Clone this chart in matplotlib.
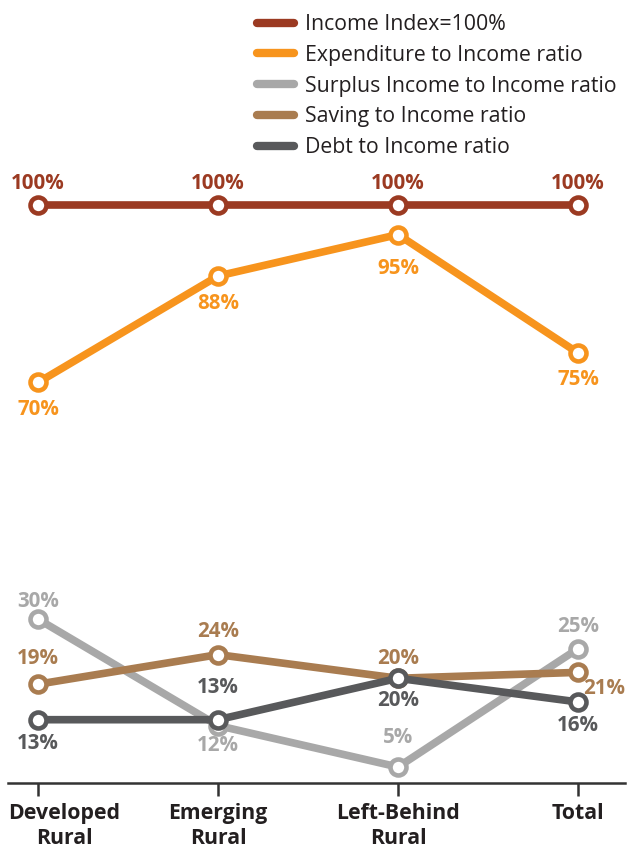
import matplotlib
matplotlib.use("Agg")
import matplotlib.pyplot as plt
from matplotlib.lines import Line2D
from matplotlib.transforms import ScaledTranslation

plt.rcParams['font.family'] = ['Open Sans', 'DejaVu Sans']

categories = ["Developed\nRural", "Emerging\nRural", "Left-Behind\nRural", "Total"]

series_names = [
    "Income Index=100%",
    "Expenditure to Income ratio",
    "Surplus Income to Income ratio",
    "Saving to Income ratio",
    "Debt to Income ratio",
]
income = [100, 100, 100, 100]
expenditure = [70, 88, 95, 75]
surplus = [30, 12, 5, 25]
saving = [19, 24, 20, 21]
debt = [13, 13, 20, 16]

colors = ["#9B3A22", "#F7941D", "#A8A8A8", "#A97C50", "#58595B"]

# label offsets in pixels (dx, dy) for each point of each series
offsets = {
    0: [(0, 22), (0, 22), (0, 22), (0, 22)],
    1: [(0, -27), (0, -28), (0, -34), (0, -27)],
    2: [(0, 18), (0, -20), (0, 30), (0, 22)],
    3: [(0, 26), (0, 23), (0, 20), (26, -16)],
    4: [(0, -24), (0, 32), (0, -22), (0, -24)],
}

fig = plt.figure(figsize=(6.3, 8.48), dpi=100)
W, H = 630, 848
ax_left, ax_right, ax_top, ax_bottom = 8, 625, 160, 783
ax = fig.add_axes([ax_left / W, 1 - ax_bottom / H,
                   (ax_right - ax_left) / W, (ax_bottom - ax_top) / H])

x = list(range(len(categories)))
all_series = [income, expenditure, surplus, saving, debt]
# draw order: lower series first so the upper ones sit on top where they cross
draw_order = [2, 3, 4, 1, 0]
for i in draw_order:
    vals = all_series[i]
    ax.plot(x, vals, color=colors[i], lw=5.5, marker='o', markersize=11.5,
            markerfacecolor='white', markeredgecolor=colors[i],
            markeredgewidth=3.3, solid_capstyle='round', zorder=3 + i * 0.1)
    for j, v in enumerate(vals):
        dx, dy = offsets[i][j]
        ax.annotate(f"{v}%", (j, v), xytext=(dx, dy), textcoords='offset pixels',
                    ha='center', va='center', fontsize=14.8, fontweight='bold',
                    color=colors[i], zorder=6)

ax.set_xlim(-30 / 180, 3 + 47 / 180)
ax.set_ylim(2.3, 100 + 45 / 5.916)

for side in ['top', 'right', 'left']:
    ax.spines[side].set_visible(False)
ax.spines['bottom'].set_color('#333333')
ax.spines['bottom'].set_linewidth(1.8)
ax.set_yticks([])
ax.set_xticks(x)
ax.set_xticklabels(categories, fontsize=15.3, fontweight='bold', color='#231F20',
                   linespacing=1.25)
ax.tick_params(axis='x', length=9, width=1.8, color='#333333', pad=5.5)

# first category label is left-aligned so it stays inside the figure
first = ax.get_xticklabels()[0]
first.set_ha('left')
first.set_multialignment('center')
first.set_transform(first.get_transform() + ScaledTranslation(-30 / 100, 0, fig.dpi_scale_trans))

handles = [Line2D([0], [0], color=c, lw=6, solid_capstyle='round') for c in colors]
fig.legend(handles, series_names, loc='upper left',
           bbox_to_anchor=(257 / W, 1 - 14 / H), frameon=False,
           fontsize=15.3, handlelength=1.75, handletextpad=0.5,
           labelspacing=0.46, borderaxespad=0, borderpad=0,
           labelcolor='#231F20')

fig.savefig("out.png", dpi=100)
